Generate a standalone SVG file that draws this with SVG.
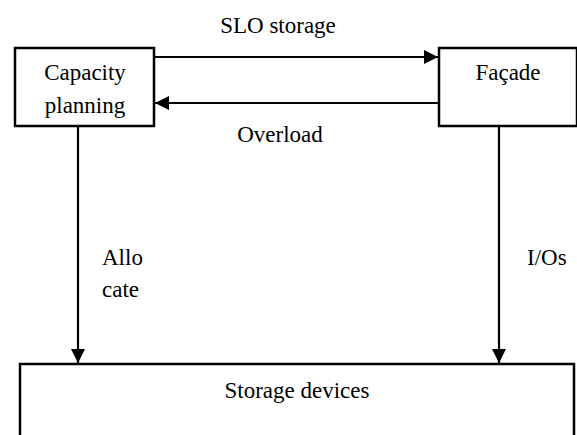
<svg xmlns="http://www.w3.org/2000/svg" width="577" height="435" viewBox="0 0 577 435">
<style>
.box{fill:#fff;stroke:#000;stroke-width:2.5}
.ln{fill:none;stroke:#000;stroke-width:2.2}
text{font-family:"Liberation Serif","Times New Roman",serif;font-size:23px;fill:#000}
</style>
<defs>
<marker id="ah" viewBox="0 0 14 14" refX="14" refY="7" markerWidth="14" markerHeight="14" markerUnits="userSpaceOnUse" orient="auto">
<path d="M0,0 L14,7 L0,14 Z" fill="#000"/>
</marker>
</defs>
<rect width="577" height="435" fill="#fff"/>
<g id="capacity">
<rect class="box" x="15" y="48" width="139" height="78"/>
<text x="85" y="80" text-anchor="middle">Capacity</text>
<text x="85" y="113" text-anchor="middle">planning</text>
</g>
<g id="facade">
<rect class="box" x="439" y="48" width="138" height="78"/>
<text x="508" y="80" text-anchor="middle">Façade</text>
</g>
<g id="storage">
<rect class="box" x="20" y="364" width="554" height="90"/>
<text x="297" y="398" text-anchor="middle">Storage devices</text>
</g>
<g id="connectors">
<line class="ln" x1="154" y1="57" x2="438" y2="57" marker-end="url(#ah)"/>
<line class="ln" x1="439" y1="103" x2="155" y2="103" marker-end="url(#ah)"/>
<line class="ln" x1="78" y1="126" x2="78" y2="363" marker-end="url(#ah)"/>
<line class="ln" x1="499" y1="126" x2="499" y2="363" marker-end="url(#ah)"/>
<text x="278" y="33" text-anchor="middle">SLO storage</text>
<text x="280" y="142" text-anchor="middle">Overload</text>
<text x="102" y="265">Allo</text>
<text x="102" y="297">cate</text>
<text x="527" y="265">I/Os</text>
</g>
</svg>
